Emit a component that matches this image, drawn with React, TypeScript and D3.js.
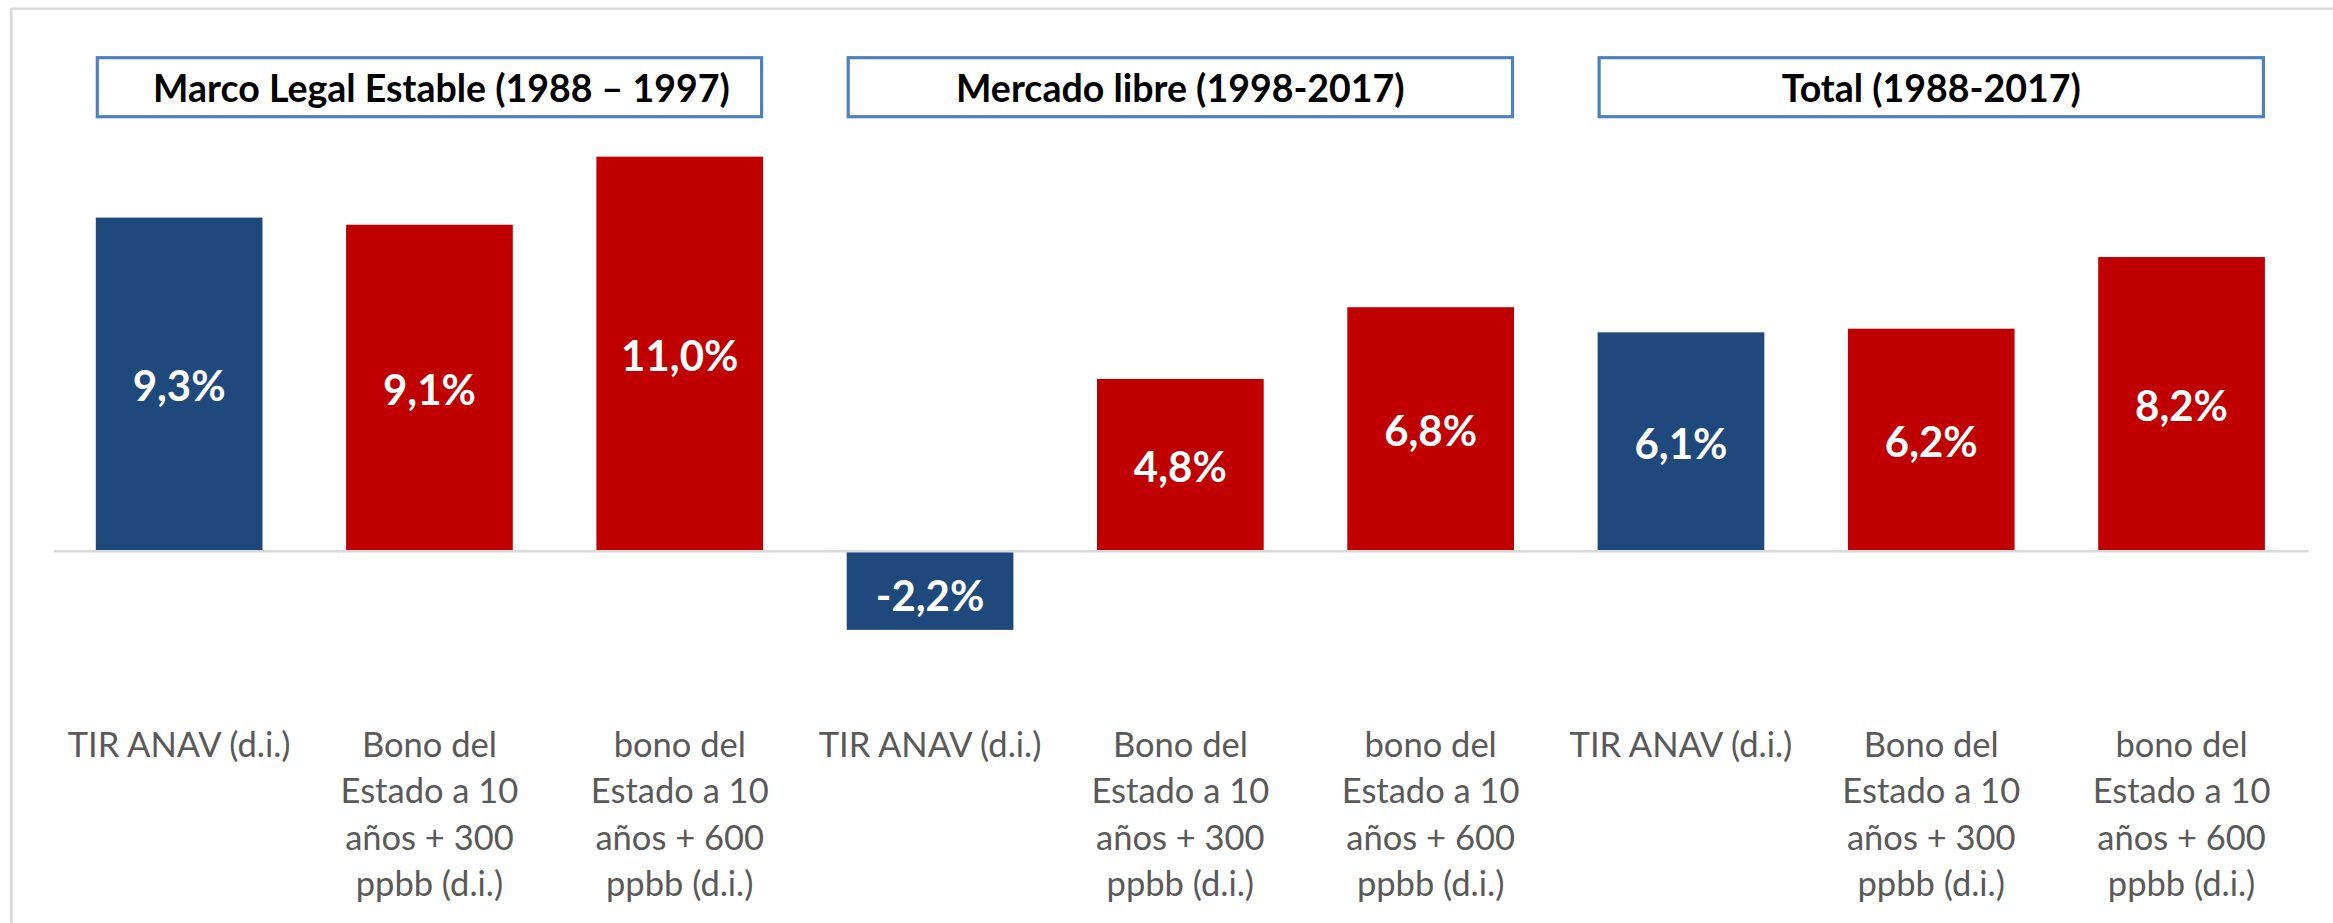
import React from "react";
import * as d3 from "d3";

// ---- data ----
const categories: string[] = [
  "TIR ANAV (d.i.)",
  "Bono del\nEstado a 10\naños + 300\nppbb (d.i.)",
  "bono del\nEstado a 10\naños + 600\nppbb (d.i.)",
  "TIR ANAV (d.i.)",
  "Bono del\nEstado a 10\naños + 300\nppbb (d.i.)",
  "bono del\nEstado a 10\naños + 600\nppbb (d.i.)",
  "TIR ANAV (d.i.)",
  "Bono del\nEstado a 10\naños + 300\nppbb (d.i.)",
  "bono del\nEstado a 10\naños + 600\nppbb (d.i.)",
];
const values: number[] = [9.3, 9.1, 11.0, -2.2, 4.8, 6.8, 6.1, 6.2, 8.2];
const kinds: string[] = ["anav", "bono", "bono", "anav", "bono", "bono", "anav", "bono", "bono"];
const periods: string[] = [
  "Marco Legal Estable (1988 – 1997)",
  "Mercado libre (1998-2017)",
  "Total (1988-2017)",
];
const yDomain: [number, number] = [-4, 12];

// ---- layout ----
const W = 2333;
const H = 923;
const plotLeft = 54;
const plotRight = 2306.7;
const zeroY = 551;
const pxPerUnit = 35.85;
const FONT = "Lato, 'Open Sans', 'Liberation Sans', sans-serif";
const colors: Record<string, string> = { anav: "#1F497D", bono: "#C00000" };
const titleDx = [12, 0, 0];

const locale = d3.formatLocale({
  decimal: ",",
  thousands: ".",
  grouping: [3],
  currency: ["", "€"],
  minus: "-",
});
const fmt = locale.format(".1f");

export default function App() {
  const idx = categories.map((_, i) => i);
  const x = d3
    .scaleBand<number>()
    .domain(idx)
    .range([plotLeft, plotRight])
    .paddingInner(0.334)
    .paddingOuter(0.167);
  const y = d3
    .scaleLinear()
    .domain(yDomain)
    .range([zeroY - yDomain[0] * pxPerUnit, zeroY - yDomain[1] * pxPerUnit]);
  const bw = x.bandwidth();

  return (
    <svg
      width={W}
      height={H}
      style={{ position: "absolute", left: 0, top: 0, background: "#fff" }}
      xmlns="http://www.w3.org/2000/svg"
    >
      <rect x={0} y={0} width={W} height={H} fill="#fff" />
      {/* chart area frame */}
      <rect x={11.3} y={8.7} width={W + 50} height={H + 50} fill="none" stroke="#D9D9D9" strokeWidth={2.6} />

      {/* bars */}
      {values.map((v, i) => (
        <rect
          key={"b" + i}
          x={x(i)!}
          y={Math.min(y(v), y(0))}
          width={bw}
          height={Math.abs(y(v) - y(0))}
          fill={colors[kinds[i]]}
        />
      ))}

      {/* zero axis line */}
      <line x1={plotLeft} x2={plotRight + 2} y1={y(0) + 0.3} y2={y(0) + 0.3} stroke="#D9D9D9" strokeWidth={2.6} />

      {/* value labels */}
      {values.map((v, i) => {
        const mid = (y(v) + y(0)) / 2 + (v < 0 ? 6 : 2);
        return (
          <text
            key={"v" + i}
            x={x(i)! + bw / 2}
            y={mid + 15}
            textAnchor="middle"
            fontFamily={FONT}
            fontWeight={700}
            fontSize={42}
            fill="#fff"
          >
            {fmt(v) + "%"}
          </text>
        );
      })}

      {/* category labels */}
      {categories.map((c, i) => (
        <text
          key={"c" + i}
          x={x(i)! + bw / 2}
          y={757}
          textAnchor="middle"
          fontFamily={FONT}
          fontSize={34.5}
          fill="#595959"
        >
          {c.split("\n").map((line, j) => (
            <tspan key={j} x={x(i)! + bw / 2} dy={j === 0 ? 0 : 46.3}>
              {line}
            </tspan>
          ))}
        </text>
      ))}

      {/* period title boxes */}
      {periods.map((p, g) => {
        const x0 = x(g * 3)!;
        const x1 = x(g * 3 + 2)! + bw;
        return (
          <g key={"p" + g}>
            <rect x={x0 + 1.5} y={57.7} width={x1 - x0 - 3} height={59} fill="#fff" stroke="#4F81BD" strokeWidth={3.2} />
            <text
              x={(x0 + x1) / 2 + titleDx[g]}
              y={101.7}
              textAnchor="middle"
              fontFamily={FONT}
              fontWeight={700}
              fontSize={37.5}
              fill="#000"
            >
              {p}
            </text>
          </g>
        );
      })}
    </svg>
  );
}
